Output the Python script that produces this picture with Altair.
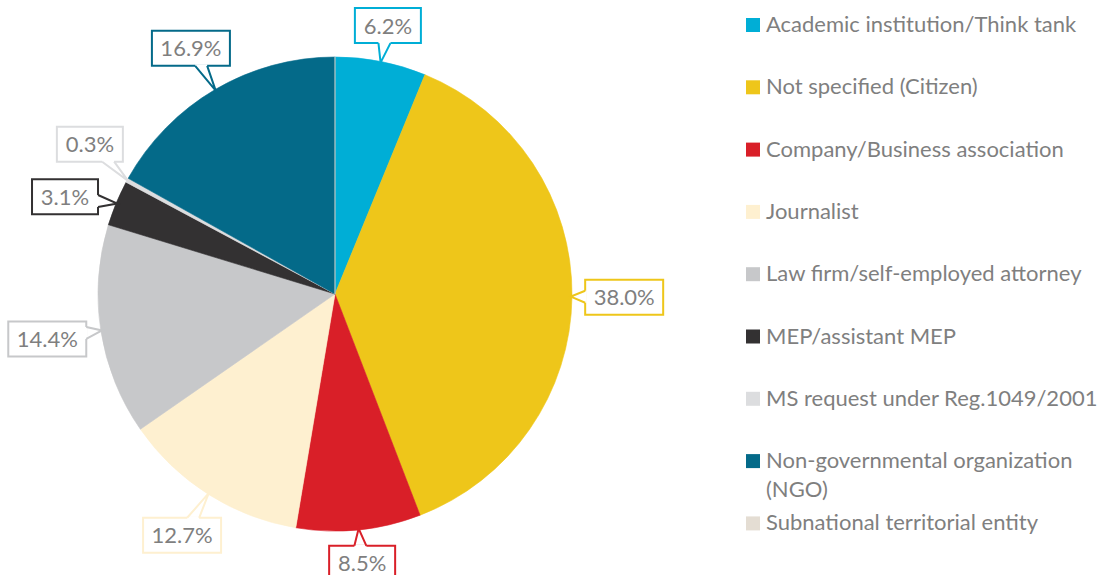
import math
import pandas as pd
import altair as alt

# ---------------- data ----------------
categories = [
    "Academic institution/Think tank",
    "Not specified (Citizen)",
    "Company/Business association",
    "Journalist",
    "Law firm/self-employed attorney",
    "MEP/assistant MEP",
    "MS request under Reg.1049/2001",
    "Non-governmental organization (NGO)",
    "Subnational territorial entity",
]
shares = [6.2, 38.0, 8.5, 12.7, 14.4, 3.1, 0.3, 16.9, 0.0]
labels = ["6.2%", "38.0%", "8.5%", "12.7%", "14.4%", "3.1%", "0.3%", "16.9%", ""]
legend_text = [
    "Academic institution/Think tank",
    "Not specified (Citizen)",
    "Company/Business association",
    "Journalist",
    "Law firm/self-employed attorney",
    "MEP/assistant MEP",
    "MS request under Reg.1049/2001",
    "Non-governmental organization\n(NGO)",
    "Subnational territorial entity",
]
colors = ["#00AED6", "#EEC61A", "#D91F28", "#FEF0D0", "#C7C8CA",
          "#333132", "#DCDDDF", "#046A89", "#E4DDD3"]

# ---------------- layout constants ----------------
W, H = 1098, 575
CX, CY = 335, 294          # pie centre (px)
R = 237                    # pie radius (px)
GAP = 13                   # gap between pie and label box
BOX_H = 35
MARGIN = 16
FONT = "Lato"
FS = 22
TXT = "#7F7F7F"

total = sum(shares)
cum = 0.0
mid = []
for v in shares:
    mid.append((cum + v / 2) / total * 360.0)
    cum += v
hw_all = [(12 * len(l) + 18) / 2 for l in labels]


def centers(angs, hws):
    out = []
    for a, hw in zip(angs, hws):
        t = math.radians(a)
        s, c = math.sin(t), math.cos(t)
        r = R + GAP + abs(s) * hw + abs(c) * BOX_H / 2
        out.append((r * s, r * c))
    return out


lab_idx = [i for i, l in enumerate(labels) if l]
angs = [mid[i] for i in lab_idx]
hws = [hw_all[i] for i in lab_idx]
for _ in range(500):
    cs = centers(angs, hws)
    moved = False
    n = len(angs)
    for k in range(n):
        j = (k + 1) % n
        (x1, y1), (x2, y2) = cs[k], cs[j]
        if abs(x1 - x2) < hws[k] + hws[j] + MARGIN and abs(y1 - y2) < BOX_H + MARGIN:
            angs[k] -= 0.25
            angs[j] += 0.25
            moved = True
    if not moved:
        break
cs = centers(angs, hws)

box_rows, tail_rows, cover_rows = [], [], []
hh = BOX_H / 2
for k, i in enumerate(lab_idx):
    bx, by = cs[k]
    hw = hws[k]
    box_rows.append(dict(cat=categories[i], label=labels[i], bx=bx, by=by,
                         x1=bx - hw, x2=bx + hw, y1=by - hh, y2=by + hh))
    t = math.radians(mid[i])
    tx, ty = R * 0.995 * math.sin(t), R * 0.995 * math.cos(t)
    dx, dy = tx - bx, ty - by
    if abs(dx) * hh > abs(dy) * hw:
        xe = bx + math.copysign(hw, dx)
        py = by + dy * hw / abs(dx)
        py = min(max(py, by - hh + 7), by + hh - 7)
        b1, b2 = (xe, py - 6), (xe, py + 6)
    else:
        ye = by + math.copysign(hh, dy)
        px = bx + dx * hh / abs(dy)
        px = min(max(px, bx - hw + 8), bx + hw - 8)
        b1, b2 = (px - 6, ye), (px + 6, ye)
    for p, (x, y) in enumerate([b1, (tx, ty), b2]):
        tail_rows.append(dict(cat=categories[i], pt=p, x=x, y=y))
    cover_rows.append(dict(cat=categories[i], x=b1[0], y=b1[1], x2=b2[0], y2=b2[1]))

pie_df = pd.DataFrame(dict(cat=categories, share=shares, idx=list(range(len(categories)))))
box_df = pd.DataFrame(box_rows)
tail_df = pd.DataFrame(tail_rows)
cover_df = pd.DataFrame(cover_rows)

LEG_SYM_X = 753 - CX
LEG_TXT_X = 766 - CX
LEG_TOP = CY - 25
LEG_STEP = 62.3
legend_df = pd.DataFrame(dict(
    cat=categories,
    text=legend_text,
    lx=[LEG_SYM_X] * len(categories),
    tx=[LEG_TXT_X] * len(categories),
    ly=[LEG_TOP - k * LEG_STEP for k in range(len(categories))],
))

# ---------------- scales ----------------
xs = alt.Scale(domain=[-CX, W - CX], nice=False, zero=False)
ys = alt.Scale(domain=[CY - H, CY], nice=False, zero=False)
cscale = alt.Scale(domain=categories, range=colors)

pie = alt.Chart(pie_df).mark_arc(radius=R, strokeWidth=0.6).encode(
    theta=alt.Theta("share:Q", stack=True),
    order=alt.Order("idx:Q"),
    color=alt.Color("cat:N", scale=cscale, legend=None),
    stroke=alt.Stroke("cat:N", scale=cscale, legend=None),
    x=alt.value(CX),
    y=alt.value(CY),
)

boxes = alt.Chart(box_df).mark_rect(fill="white", strokeWidth=2).encode(
    x=alt.X("x1:Q", scale=xs, axis=None),
    x2="x2:Q",
    y=alt.Y("y1:Q", scale=ys, axis=None),
    y2="y2:Q",
    stroke=alt.Stroke("cat:N", scale=cscale, legend=None),
)

cover = alt.Chart(cover_df).mark_rule(color="white", strokeWidth=3).encode(
    x=alt.X("x:Q", scale=xs, axis=None),
    x2="x2:Q",
    y=alt.Y("y:Q", scale=ys, axis=None),
    y2="y2:Q",
)

tails = alt.Chart(tail_df).mark_line(strokeWidth=2, strokeJoin="miter").encode(
    x=alt.X("x:Q", scale=xs, axis=None),
    y=alt.Y("y:Q", scale=ys, axis=None),
    detail="cat:N",
    order=alt.Order("pt:Q"),
    stroke=alt.Stroke("cat:N", scale=cscale, legend=None),
)

pct = alt.Chart(box_df).mark_text(font=FONT, fontSize=FS, color=TXT,
                                  align="center", baseline="middle", dy=1).encode(
    x=alt.X("bx:Q", scale=xs, axis=None),
    y=alt.Y("by:Q", scale=ys, axis=None),
    text="label:N",
)

leg_sym = alt.Chart(legend_df).mark_square(size=196, opacity=1).encode(
    x=alt.X("lx:Q", scale=xs, axis=None),
    y=alt.Y("ly:Q", scale=ys, axis=None),
    color=alt.Color("cat:N", scale=cscale, legend=None),
)

leg_txt = alt.Chart(legend_df).mark_text(font=FONT, fontSize=FS, color=TXT,
                                         align="left", baseline="top", dy=-10,
                                         lineBreak="\n", lineHeight=29).encode(
    x=alt.X("tx:Q", scale=xs, axis=None),
    y=alt.Y("ly:Q", scale=ys, axis=None),
    text="text:N",
)

chart = alt.layer(pie, boxes, cover, tails, pct, leg_sym, leg_txt).properties(
    width=W, height=H, padding=0, autosize=alt.AutoSizeParams(type="none"),
    background="white",
).configure_view(stroke=None)

chart.save("out.html", embed_options={"renderer": "svg", "actions": False})
